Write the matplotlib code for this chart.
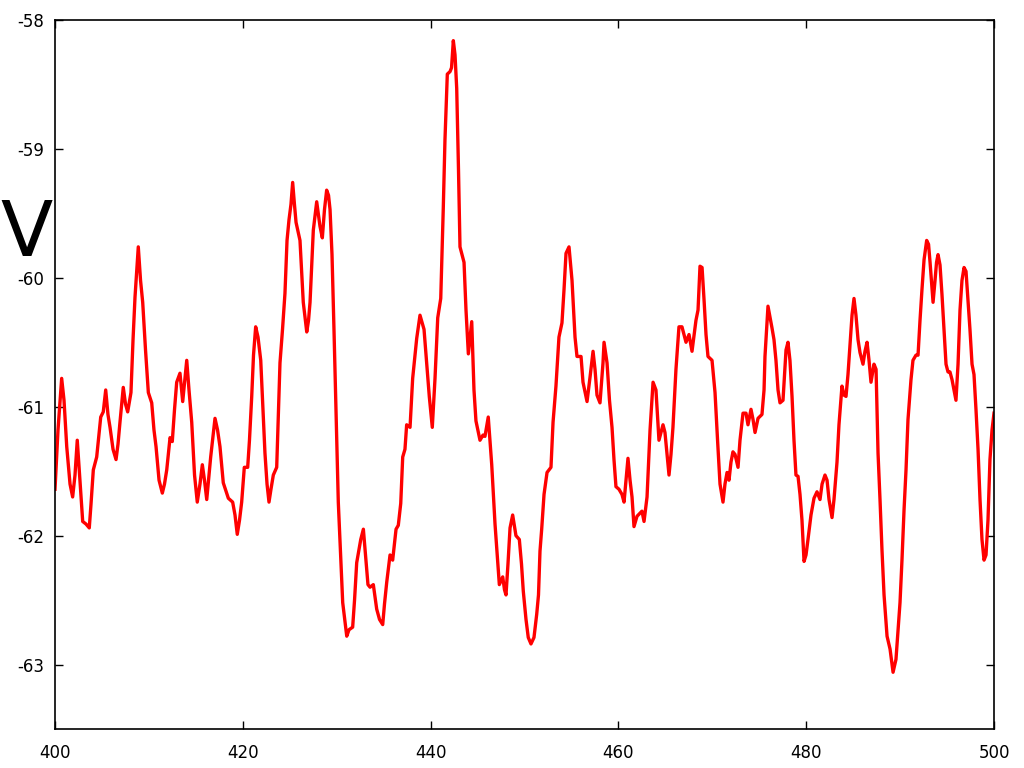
import matplotlib

matplotlib.use("Agg")
import matplotlib.pyplot as plt  # noqa: E402

# trace (time vs voltage)
t = [
    400.00, 400.32, 400.71, 400.96, 401.25, 401.60, 401.88, 402.13, 402.37, 402.66,
    402.95, 403.30, 403.65, 403.83, 404.08, 404.44, 404.87, 405.14, 405.40, 405.64,
    405.86, 406.18, 406.50, 406.71, 406.92, 407.27, 407.51, 407.74, 408.09, 408.31,
    408.52, 408.87, 409.11, 409.34, 409.64, 409.94, 410.30, 410.54, 410.76, 411.08,
    411.43, 411.66, 411.90, 412.25, 412.49, 412.73, 412.96, 413.31, 413.60, 414.03,
    414.27, 414.56, 414.86, 415.15, 415.44, 415.69, 415.92, 416.16, 416.58, 417.04,
    417.31, 417.57, 417.92, 418.46, 418.92, 419.17, 419.41, 419.65, 419.88, 420.16,
    420.52, 420.71, 420.95, 421.14, 421.37, 421.62, 421.91, 422.15, 422.36, 422.58,
    422.79, 423.00, 423.25, 423.61, 423.96, 424.23, 424.49, 424.71, 424.92, 425.13,
    425.31, 425.50, 425.67, 426.09, 426.31, 426.44, 426.81, 427.00, 427.16, 427.51,
    427.87, 428.22, 428.47, 428.70, 428.93, 429.13, 429.29, 429.50, 429.71, 430.17,
    430.64, 431.07, 431.31, 431.70, 431.90, 432.13, 432.56, 432.84, 433.12, 433.33,
    433.55, 433.90, 434.26, 434.56, 434.90, 435.09, 435.33, 435.68, 435.96, 436.32,
    436.56, 436.82, 437.03, 437.27, 437.45, 437.81, 438.09, 438.52, 438.87, 439.30,
    439.56, 439.86, 440.18, 440.47, 440.76, 441.08, 441.35, 441.53, 441.78, 442.07,
    442.23, 442.42, 442.60, 442.78, 442.97, 443.13, 443.56, 443.77, 444.02, 444.38,
    444.62, 444.83, 445.26, 445.58, 445.79, 446.14, 446.51, 446.86, 447.32, 447.68,
    447.87, 448.03, 448.24, 448.46, 448.74, 449.09, 449.45, 449.68, 449.87, 450.16,
    450.40, 450.69, 451.01, 451.30, 451.49, 451.65, 451.83, 452.08, 452.40, 452.82,
    453.04, 453.35, 453.67, 453.99, 454.21, 454.42, 454.74, 455.06, 455.38, 455.59,
    456.02, 456.23, 456.66, 456.98, 457.30, 457.51, 457.72, 458.04, 458.36, 458.47,
    458.79, 459.05, 459.32, 459.53, 459.74, 460.06, 460.38, 460.60, 460.81, 461.02,
    461.24, 461.45, 461.66, 461.98, 462.51, 462.73, 463.05, 463.37, 463.69, 464.00,
    464.32, 464.75, 464.96, 465.18, 465.39, 465.60, 465.81, 466.13, 466.45, 466.77,
    467.20, 467.52, 467.84, 468.26, 468.48, 468.69, 468.91, 469.12, 469.33, 469.54,
    469.97, 470.29, 470.56, 470.82, 471.14, 471.35, 471.57, 471.78, 471.99, 472.20,
    472.42, 472.74, 472.95, 473.27, 473.59, 473.80, 474.12, 474.34, 474.55, 474.87,
    475.29, 475.51, 475.61, 475.93, 476.36, 476.57, 476.78, 477.00, 477.21, 477.53,
    477.85, 478.06, 478.27, 478.49, 478.70, 478.91, 479.13, 479.34, 479.55, 479.77,
    479.98, 480.19, 480.51, 480.83, 481.15, 481.47, 481.69, 482.00, 482.22, 482.43,
    482.75, 482.96, 483.28, 483.49, 483.81, 484.03, 484.24, 484.45, 484.66, 484.88,
    485.09, 485.30, 485.52, 485.73, 486.05, 486.26, 486.48, 486.69, 486.90, 487.22,
    487.44, 487.65, 487.86, 488.07, 488.29, 488.61, 488.93, 489.25, 489.56, 489.78,
    489.99, 490.20, 490.42, 490.63, 490.84, 491.16, 491.37, 491.69, 491.91, 492.12,
    492.33, 492.55, 492.83, 493.03, 493.19, 493.40, 493.51, 493.72, 493.88, 494.04,
    494.25, 494.46, 494.68, 494.89, 495.10, 495.31, 495.53, 495.74, 495.95, 496.17,
    496.38, 496.59, 496.81, 497.02, 497.23, 497.44, 497.66, 497.87, 498.08, 498.30,
    498.51, 498.72, 498.94, 499.15, 499.36, 499.57, 499.79, 500.00,
]
v = [
    -61.64, -61.18, -60.78, -60.95, -61.31, -61.60, -61.70, -61.53, -61.26, -61.57,
    -61.89, -61.91, -61.94, -61.76, -61.49, -61.39, -61.08, -61.04, -60.87, -61.06,
    -61.16, -61.33, -61.41, -61.29, -61.12, -60.85, -60.98, -61.04, -60.89, -60.48,
    -60.15, -59.76, -60.02, -60.19, -60.56, -60.89, -60.97, -61.18, -61.31, -61.57,
    -61.67, -61.60, -61.49, -61.24, -61.27, -61.02, -60.81, -60.74, -60.96, -60.64,
    -60.87, -61.12, -61.53, -61.74, -61.60, -61.45, -61.57, -61.72, -61.39, -61.09,
    -61.18, -61.31, -61.59, -61.71, -61.74, -61.84, -61.99, -61.88, -61.74, -61.47,
    -61.47, -61.26, -60.92, -60.60, -60.38, -60.46, -60.64, -61.02, -61.36, -61.60,
    -61.74, -61.64, -61.53, -61.47, -60.66, -60.40, -60.12, -59.71, -59.55, -59.43,
    -59.26, -59.43, -59.57, -59.71, -60.02, -60.19, -60.42, -60.33, -60.19, -59.63,
    -59.41, -59.60, -59.69, -59.47, -59.32, -59.36, -59.47, -59.82, -60.40, -61.74,
    -62.52, -62.78, -62.73, -62.71, -62.50, -62.21, -62.03, -61.95, -62.19, -62.38,
    -62.40, -62.38, -62.57, -62.65, -62.69, -62.53, -62.36, -62.15, -62.19, -61.95,
    -61.92, -61.75, -61.39, -61.33, -61.14, -61.16, -60.78, -60.47, -60.29, -60.40,
    -60.64, -60.92, -61.16, -60.78, -60.31, -60.16, -59.46, -58.93, -58.42, -58.40,
    -58.37, -58.16, -58.27, -58.53, -59.16, -59.76, -59.88, -60.25, -60.59, -60.34,
    -60.87, -61.11, -61.26, -61.22, -61.23, -61.08, -61.45, -61.91, -62.38, -62.32,
    -62.42, -62.46, -62.22, -61.94, -61.84, -62.00, -62.03, -62.22, -62.43, -62.65,
    -62.79, -62.84, -62.79, -62.61, -62.46, -62.12, -61.95, -61.68, -61.51, -61.47,
    -61.12, -60.84, -60.46, -60.35, -60.09, -59.81, -59.76, -60.02, -60.46, -60.61,
    -60.61, -60.81, -60.96, -60.77, -60.57, -60.71, -60.91, -60.97, -60.66, -60.50,
    -60.66, -60.95, -61.16, -61.41, -61.62, -61.64, -61.68, -61.74, -61.57, -61.40,
    -61.57, -61.70, -61.93, -61.85, -61.81, -61.89, -61.70, -61.18, -60.81, -60.87,
    -61.26, -61.14, -61.20, -61.37, -61.53, -61.37, -61.16, -60.71, -60.38, -60.38,
    -60.50, -60.44, -60.57, -60.33, -60.25, -59.91, -59.92, -60.17, -60.44, -60.61,
    -60.64, -60.89, -61.26, -61.60, -61.74, -61.60, -61.51, -61.57, -61.43, -61.35,
    -61.37, -61.47, -61.26, -61.05, -61.05, -61.14, -61.02, -61.10, -61.20, -61.09,
    -61.06, -60.87, -60.61, -60.22, -60.39, -60.48, -60.64, -60.87, -60.97, -60.95,
    -60.56, -60.50, -60.64, -60.92, -61.26, -61.53, -61.54, -61.68, -61.88, -62.20,
    -62.15, -62.03, -61.84, -61.71, -61.66, -61.72, -61.60, -61.53, -61.57, -61.72,
    -61.86, -61.72, -61.43, -61.14, -60.84, -60.91, -60.92, -60.75, -60.53, -60.29,
    -60.16, -60.29, -60.48, -60.58, -60.67, -60.57, -60.50, -60.64, -60.81, -60.67,
    -60.71, -61.36, -61.72, -62.11, -62.46, -62.78, -62.88, -63.06, -62.96, -62.73,
    -62.52, -62.19, -61.80, -61.49, -61.10, -60.79, -60.64, -60.60, -60.60, -60.33,
    -60.09, -59.86, -59.71, -59.74, -59.88, -60.09, -60.19, -60.02, -59.88, -59.82,
    -59.90, -60.13, -60.40, -60.67, -60.73, -60.73, -60.79, -60.87, -60.95, -60.67,
    -60.25, -60.02, -59.92, -59.95, -60.17, -60.40, -60.67, -60.75, -61.02, -61.33,
    -61.72, -62.03, -62.19, -62.15, -61.88, -61.41, -61.18, -61.05,
]
x_ticks = [400, 420, 440, 460, 480, 500]
y_ticks = [-63, -62, -61, -60, -59, -58]

fig = plt.figure(figsize=(10.24, 7.68), dpi=100)
ax = fig.add_axes([55 / 1024, 1 - 729 / 768, 939 / 1024, 709 / 768])
ax.plot(t, v, color="#ff0000", lw=2.4, solid_joinstyle="round")

ax.set_xlim(400, 500)
ax.set_ylim(-63.5, -58)
ax.set_xticks(x_ticks)
ax.set_yticks(y_ticks)
ax.set_xticklabels([str(x) for x in x_ticks])
ax.set_yticklabels([str(y) for y in y_ticks])
ax.tick_params(direction="in", length=6, width=1, labelsize=12,
               top=True, right=True)
ax.tick_params(axis="x", pad=11)
ax.tick_params(axis="y", pad=8)
for s in ax.spines.values():
    s.set_linewidth(1.2)

fig.text(27 / 1024, 1 - 235 / 768, "V", fontsize=55, ha="center", va="center")

fig.savefig("out.png", dpi=100)
